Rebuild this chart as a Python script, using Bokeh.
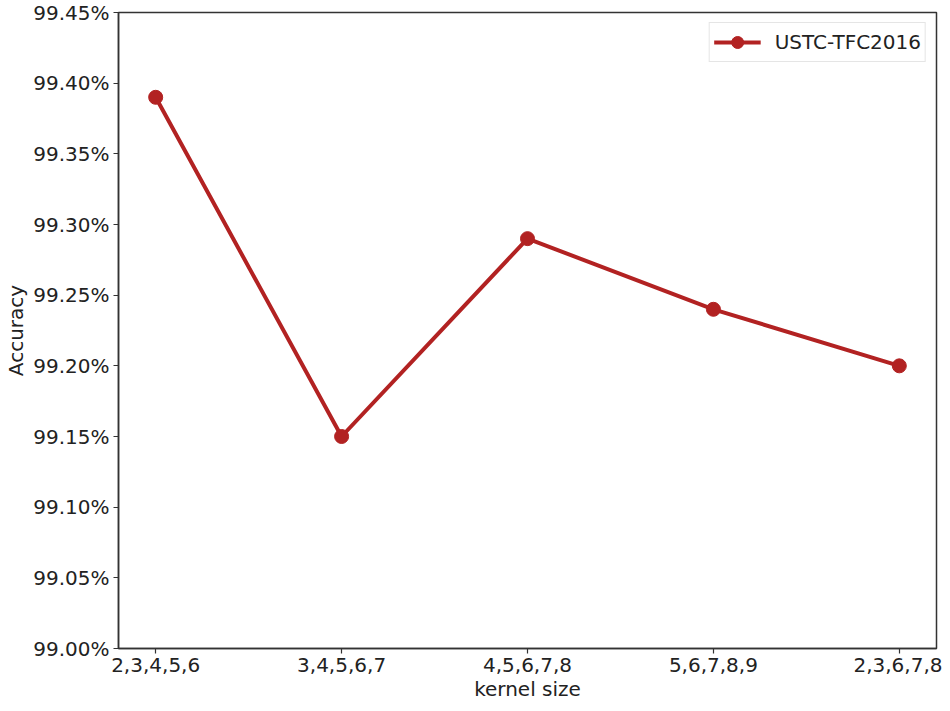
from bokeh.plotting import figure
from bokeh.models import FixedTicker, PrintfTickFormatter, Range1d, ColumnDataSource
from bokeh.embed import file_html
from bokeh.resources import INLINE

categories = ["2,3,4,5,6", "3,4,5,6,7", "4,5,6,7,8", "5,6,7,8,9", "2,3,6,7,8"]
accuracy = [99.39, 99.15, 99.29, 99.24, 99.20]
y_ticks = [99.00, 99.05, 99.10, 99.15, 99.20, 99.25, 99.30, 99.35, 99.40, 99.45]
series_name = "USTC-TFC2016"

xs = list(range(len(categories)))
src = ColumnDataSource(dict(x=xs, y=accuracy))

p = figure(width=942, height=703, output_backend="svg", toolbar_location=None,
           x_range=Range1d(-0.2, len(categories) - 1 + 0.2),
           y_range=Range1d(y_ticks[0], y_ticks[-1]))
p.min_border_left = 118
p.min_border_right = 6
p.min_border_top = 12
p.min_border_bottom = 51

color = "#B22222"
p.line("x", "y", source=src, line_color=color, line_width=4, legend_label=series_name)
p.scatter("x", "y", source=src, size=14, fill_color=color, line_color=color, legend_label=series_name)

p.xgrid.visible = False
p.ygrid.visible = False
p.outline_line_color = "#333333"
p.outline_line_width = 1.5

font = "DejaVu Sans"
for ax in (p.xaxis[0], p.yaxis[0]):
    ax.axis_line_color = "#333333"
    ax.axis_line_width = 1.5
    ax.major_tick_line_color = "#333333"
    ax.major_tick_line_width = 1.2
    ax.major_tick_out = 5
    ax.major_tick_in = 0
    ax.minor_tick_line_color = None
    ax.major_label_text_font = font
    ax.major_label_text_font_size = "20px"
    ax.major_label_text_color = "#222222"
    ax.axis_label_text_font = font
    ax.axis_label_text_font_size = "20px"
    ax.axis_label_text_font_style = "normal"
    ax.axis_label_text_color = "#222222"

p.xaxis.ticker = FixedTicker(ticks=xs)
p.xaxis.major_label_overrides = {i: c for i, c in enumerate(categories)}
p.xaxis.axis_label = "kernel size"
p.xaxis.axis_label_standoff = 2
p.xaxis.major_label_standoff = 4

p.yaxis.ticker = FixedTicker(ticks=y_ticks)
p.yaxis.formatter = PrintfTickFormatter(format="%.2f%%")
p.yaxis.axis_label = "Accuracy"
p.yaxis.axis_label_standoff = 2
p.yaxis.major_label_standoff = 4

p.legend.location = "top_right"
p.legend.label_text_font = font
p.legend.label_text_font_size = "20px"
p.legend.label_text_color = "#222222"
p.legend.border_line_color = "#cccccc"
p.legend.border_line_width = 1
p.legend.glyph_width = 47
p.legend.glyph_height = 30
p.legend.label_height = 30
p.legend.label_standoff = 14
p.legend.margin = 10
p.legend.padding = 4
p.legend.background_fill_alpha = 0.8

open("out.html", "w").write(file_html(p, INLINE))
